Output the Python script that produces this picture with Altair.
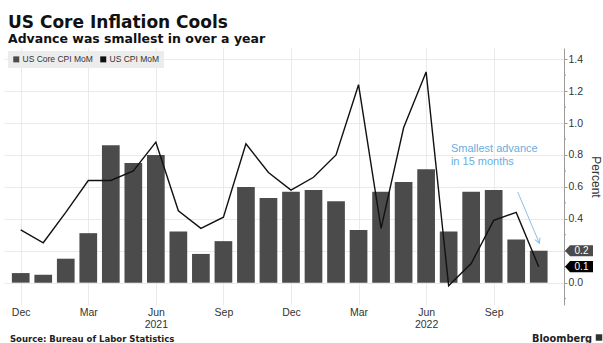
import json
import altair as alt
import pandas as pd

# ---------------- data ----------------
months = ["2020-12", "2021-01", "2021-02", "2021-03", "2021-04", "2021-05", "2021-06",
          "2021-07", "2021-08", "2021-09", "2021-10", "2021-11", "2021-12", "2022-01",
          "2022-02", "2022-03", "2022-04", "2022-05", "2022-06", "2022-07", "2022-08",
          "2022-09", "2022-10", "2022-11"]
core_cpi = [0.06, 0.05, 0.15, 0.31, 0.86, 0.75, 0.80, 0.32, 0.18, 0.26, 0.60, 0.53,
            0.57, 0.58, 0.51, 0.33, 0.57, 0.63, 0.71, 0.32, 0.57, 0.58, 0.27, 0.20]
headline_cpi = [0.33, 0.25, 0.44, 0.64, 0.64, 0.70, 0.88, 0.45, 0.34, 0.41, 0.87, 0.69,
                0.58, 0.66, 0.80, 1.24, 0.34, 0.97, 1.32, -0.02, 0.12, 0.39, 0.44, 0.10]

series_names = ["US Core CPI MoM", "US CPI MoM"]
series_colors = ["#4b4b4b", "#111111"]

tick_index = [0, 3, 6, 9, 12, 15, 18, 21]
tick_months = ["Dec", "Mar", "Jun", "Sep", "Dec", "Mar", "Jun", "Sep"]
tick_years = ["", "", "2021", "", "", "", "2022", ""]
y_ticks = [0.0, 0.2, 0.4, 0.6, 0.8, 1.0, 1.2, 1.4]
y_minor = [-0.1, 0.1, 0.3, 0.5, 0.7, 0.9, 1.1, 1.3]

last_values = [0.2, 0.1]
last_texts = ["0.2", "0.1"]
last_fills = ["#4b4b4b", "#000000"]

note_lines = ["Smallest advance", "in 15 months"]
note_pos = [19.1, 0.82]
arrow_from = [22.07, 0.567]
arrow_to = [23.03, 0.247]

TITLE = "US Core Inflation Cools"
SUBTITLE = "Advance was smallest in over a year"
SOURCE = "Source:  Bureau of Labor Statistics"
BRAND = "Bloomberg"

# ---------------- frames ----------------
df = pd.DataFrame({
    "idx": list(range(len(months))),
    "month": months,
    "core": core_cpi,
    "headline": headline_cpi,
})
df["series"] = series_names[0]

labels = [[m] if not y else [m, y] for m, y in zip(tick_months, tick_years)]
label_expr = json.dumps(labels) + "[round(datum.value / 3)]"
# the value tags at the right edge sit over these tick labels
hidden = json.dumps(last_texts)
y_label_expr = f"indexof({hidden}, datum.label) >= 0 ? '' : datum.label"

W, H = 560, 257
FONT = "Liberation Sans"
BOLD = "DejaVu Sans"

xscale = alt.Scale(domain=[-0.52, 23.9], nice=False, zero=False)
yscale = alt.Scale(domain=[-0.14, 1.47], nice=False, zero=False)

x_axis = alt.Axis(values=tick_index, labelExpr=label_expr, grid=True, ticks=False,
                  domain=False, labelPadding=2, labelFont=FONT, labelFontSize=10.5,
                  labelColor="#333333", gridColor="#e4e4e4", gridWidth=0.8, title=None,
                  labelLineHeight=12.5, labelFlush=False, labelOverlap=False)
y_axis = alt.Axis(orient="right", values=y_ticks, format=".1f", grid=True,
                  labelExpr=y_label_expr,
                  gridColor="#e4e4e4", gridWidth=0.8, domainColor="#9a9a9a",
                  tickColor="#9a9a9a", tickSize=3, labelPadding=1, labelFont=FONT,
                  labelFontSize=10.5, labelColor="#333333", title="Percent",
                  titleAngle=90, titleFont=FONT, titleFontSize=12,
                  titleFontWeight="normal", titleColor="#333333", titlePadding=6,
                  labelOverlap=False, labelFlush=False)


def X(field):
    return alt.X(field, scale=xscale, axis=x_axis)


def Y(field):
    return alt.Y(field, scale=yscale, axis=y_axis)


bars = alt.Chart(df).mark_bar(size=17.7, orient="vertical").encode(
    x=X("idx:Q"),
    y=Y("core:Q"),
    y2=alt.datum(0),
    color=alt.Color("series:N",
                    scale=alt.Scale(domain=series_names, range=series_colors),
                    legend=alt.Legend(orient="none", legendX=4, legendY=3,
                                      direction="horizontal", title=None,
                                      fillColor="#ececec", padding=4,
                                      symbolType="square", symbolSize=36,
                                      symbolStrokeWidth=0, labelFont=FONT,
                                      labelFontSize=8.5, labelColor="#333333",
                                      columnPadding=6, labelOffset=2)),
)

line = alt.Chart(df).mark_line(color="#111111", strokeWidth=1.4).encode(
    x=X("idx:Q"), y=Y("headline:Q"))

note_df = pd.DataFrame({"x": [note_pos[0]], "y": [note_pos[1]], "t": ["\n".join(note_lines)]})
note = alt.Chart(note_df).mark_text(align="left", baseline="alphabetic", lineBreak="\n",
                                    lineHeight=13.5, font=FONT, fontSize=11,
                                    color="#6aaee0").encode(
    x=X("x:Q"), y=Y("y:Q"), text="t:N")

arrow_df = pd.DataFrame({"x": [arrow_from[0]], "y": [arrow_from[1]],
                         "x2": [arrow_to[0]], "y2": [arrow_to[1]]})
arrow = alt.Chart(arrow_df).mark_rule(color="#8cc0e8", strokeWidth=1).encode(
    x=X("x:Q"), y=Y("y:Q"), x2="x2:Q", y2="y2:Q")
head = alt.Chart(arrow_df).mark_point(shape="M-0.55,-1L0,0L0.55,-1", filled=False,
                                      size=100, angle=337, color="#8cc0e8",
                                      strokeWidth=1, opacity=1).encode(
    x=X("x2:Q"), y=Y("y2:Q"))

last_df = pd.DataFrame({"v": last_values, "t": last_texts, "f": last_fills})
tags = alt.Chart(last_df).mark_point(
    shape="M-1,0L-0.64,-0.4L1,-0.4L1,0.4L-0.64,0.4Z", size=784, filled=True,
    opacity=1, strokeWidth=0).encode(
    x=alt.value(W + 15), y=Y("v:Q"),
    color=alt.Color("f:N", scale=None))
tag_text = alt.Chart(last_df).mark_text(font=FONT, fontSize=10, color="white",
                                        align="center", baseline="middle").encode(
    x=alt.value(W + 17.5), y=Y("v:Q"), text="t:N")

minor_df = pd.DataFrame({"v": y_minor})
minor = alt.Chart(minor_df).mark_rule(color="#9a9a9a", strokeWidth=1).encode(
    x=alt.value(W), x2=alt.value(W + 2), y=Y("v:Q"))


def label(text, x, y, size, bold=True, align="left", color="#111111"):
    return alt.Chart(pd.DataFrame({"t": [text]})).mark_text(
        align=align, baseline="alphabetic", font=BOLD if bold else FONT,
        fontWeight="bold" if bold else "normal", fontSize=size, color=color).encode(
        x=alt.value(x), y=alt.value(y), text="t:N")


title = label(TITLE, 4, -19.7, 17)
subtitle = label(SUBTITLE, 4, -5.3, 12.5)
source = label(SOURCE, 6, 293.5, 8.5, color="#222222")
brand = label(BRAND, 588, 293.5, 9.8, align="right", color="#222222")
logo = alt.Chart(pd.DataFrame({"t": [BRAND]})).mark_square(
    size=42, color="#333333", opacity=1).encode(x=alt.value(595), y=alt.value(289.5))

chart = alt.layer(bars, line, note, arrow, head, minor, tags, tag_text,
                  title, subtitle, source, brand, logo).properties(
    width=W, height=H,
    padding={"left": 4, "top": 48, "right": 39, "bottom": 38},
    autosize=alt.AutoSizeParams(type="none"),
    background="white",
).configure_view(stroke=None)

chart.save("out.html", embed_options={"renderer": "svg", "actions": False})
